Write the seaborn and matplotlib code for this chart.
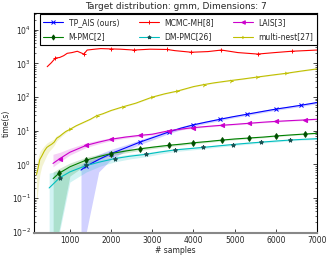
import numpy as np
import pandas as pd
import matplotlib
matplotlib.use("Agg")
import matplotlib.pyplot as plt
from matplotlib.lines import Line2D
import seaborn as sns

sns.set_style("ticks")
plt.rcParams.update({
    "font.family": ["DejaVu Sans"],
    "xtick.direction": "in", "ytick.direction": "in",
    "xtick.top": True, "ytick.right": True,
    "xtick.minor.visible": False,
})

# ---------------- data ----------------
tp_x = [1270, 1400, 1700, 2000, 2350, 2700, 3050, 3400, 3700, 4000, 4300, 4650, 4950, 5300, 5650, 6000, 6300, 6600, 7000]
tp_y = [0.68, 0.89, 1.4, 2.1, 3.1, 4.6, 6.5, 9.2, 12, 15, 18, 22, 26, 31, 37, 44, 50, 57, 69]
tp_lo = [0.01, 0.01, 0.6, 1.4, 2.5, 3.9, 5.6, 8.2, 10.8, 13.6, 16.5, 20, 24, 28.5, 34, 40.5, 46, 52.5, 63.5]
tp_hi = [0.95, 1.3, 2.0, 2.8, 3.8, 5.4, 7.5, 10.3, 13.3, 16.5, 19.6, 24, 28, 33.5, 40, 47.5, 54, 61.5, 74.5]
tp_mk = [1400, 2000, 2700, 3400, 4000, 4650, 5300, 6000, 6600]

mh_x = [450, 550, 650, 750, 850, 935, 1050, 1180, 1340, 1420, 1600, 1750, 2000, 2230, 2550, 2950, 3360, 3550, 3950, 4350, 4680, 5080, 5560, 5970, 6380, 6700, 7000]
mh_y = [800, 1050, 1450, 1500, 1700, 2000, 2100, 2300, 1900, 2500, 2650, 2760, 2700, 2650, 2500, 2650, 2600, 2400, 2150, 2250, 2500, 2100, 1900, 2100, 2300, 2400, 2500]
mh_mk = [650, 1340, 2000, 2550, 3360, 3950, 4680, 5560, 6380]

lais_x = [590, 760, 1000, 1400, 1700, 2000, 2350, 2700, 3000, 3400, 3700, 4000, 4350, 4700, 5000, 5350, 5700, 6000, 6350, 6700, 7000]
lais_y = [1.07, 1.5, 2.3, 3.7, 4.6, 5.6, 6.5, 7.3, 7.9, 10, 11.2, 12.4, 13.5, 14.6, 15.5, 16.7, 18, 19, 20, 21, 22]
lais_lo = [0.85, 1.2, 1.9, 3.2, 4.1, 5.1, 6.0, 6.8, 7.4, 9.4, 10.6, 11.8, 12.9, 14, 14.8, 16, 17.3, 18.2, 19.2, 20.2, 21.2]
lais_hi = [2.0, 2.3, 3.0, 4.4, 5.3, 6.2, 7.1, 7.9, 8.5, 10.7, 11.9, 13.1, 14.2, 15.3, 16.3, 17.5, 18.8, 19.9, 20.9, 21.9, 23]
lais_mk = [760, 1400, 2000, 2700, 3400, 4000, 4700, 5350, 6000, 6700]

mpmc_x = [594, 730, 1000, 1400, 1700, 2000, 2350, 2700, 3050, 3400, 3700, 4000, 4350, 4700, 5000, 5350, 5700, 6000, 6350, 6700, 7000]
mpmc_y = [0.38, 0.54, 0.85, 1.35, 1.7, 2.1, 2.5, 2.9, 3.3, 3.7, 4.0, 4.4, 4.8, 5.3, 5.7, 6.1, 6.5, 7.0, 7.5, 8.0, 8.4]
mpmc_lo = [0.01, 0.01, 0.45, 1.0, 1.4, 1.8, 2.2, 2.6, 3.0, 3.4, 3.7, 4.1, 4.5, 5.0, 5.4, 5.8, 6.2, 6.7, 7.2, 7.7, 8.1]
mpmc_hi = [0.6, 0.75, 1.1, 1.65, 2.0, 2.4, 2.8, 3.2, 3.6, 4.0, 4.3, 4.7, 5.1, 5.6, 6.0, 6.4, 6.8, 7.3, 7.8, 8.3, 8.7]
mpmc_mk = [730, 1400, 2000, 2700, 3400, 4000, 4700, 5350, 6000, 6700]

dm_x = [497, 750, 1000, 1400, 1750, 2100, 2450, 2850, 3200, 3550, 3900, 4230, 4600, 4950, 5300, 5650, 6000, 6340, 6700, 7000]
dm_y = [0.2, 0.4, 0.6, 0.93, 1.2, 1.5, 1.75, 2.0, 2.35, 2.7, 2.95, 3.2, 3.55, 3.9, 4.25, 4.6, 4.95, 5.3, 5.6, 5.8]
dm_lo = [0.01, 0.01, 0.3, 0.6, 0.9, 1.2, 1.45, 1.7, 2.05, 2.4, 2.65, 2.9, 3.25, 3.6, 3.95, 4.3, 4.65, 5.0, 5.3, 5.5]
dm_hi = [0.55, 0.65, 0.85, 1.2, 1.45, 1.75, 2.0, 2.25, 2.6, 2.95, 3.2, 3.5, 3.85, 4.2, 4.55, 4.9, 5.25, 5.6, 5.9, 6.1]
dm_mk = [750, 1400, 2100, 2850, 3550, 4230, 4950, 5650, 6340]

mn_x = [190, 230, 270, 320, 380, 440, 500, 560, 620, 680, 750, 820, 900, 1000, 1150, 1300, 1500, 1650, 1800, 2000, 2300, 2600, 3000, 3300, 3600, 4000, 4250, 4500, 4900, 5200, 5550, 5900, 6250, 6600, 7000]
mn_y = [0.5, 0.8, 1.4, 1.8, 2.5, 3.2, 3.6, 4.0, 4.6, 6.0, 6.8, 8.0, 9.5, 11, 14, 17, 22, 28, 32, 40, 52, 66, 100, 125, 150, 205, 235, 265, 310, 345, 395, 450, 510, 590, 690]
mn_lo = [y * 0.97 for y in mn_y]
mn_lo[:13] = [0.07, 0.2, 0.5, 0.9, 1.3, 1.9, 2.5, 3.0, 3.7, 5.0, 6.0, 7.2, 8.7]
mn_hi = [y * 1.03 for y in mn_y]
mn_hi[:13] = [1.0, 1.6, 2.4, 2.9, 3.6, 4.3, 4.8, 5.2, 5.8, 7.2, 7.8, 9.0, 10.5]
mn_mk = [1000, 1650, 2300, 3000, 3600, 4250, 4900, 5550, 6250]

series = [
    ("TP_AIS (ours)", tp_x, tp_y, tp_lo, tp_hi, tp_mk, "#0000ff", "x", "#0000ff"),
    ("MCMC-MH[8]", mh_x, mh_y, None, None, mh_mk, "#ff0000", "+", "#ff0000"),
    ("LAIS[3]", lais_x, lais_y, lais_lo, lais_hi, lais_mk, "#cc00cc", "<", "#cc00cc"),
    ("M-PMC[2]", mpmc_x, mpmc_y, mpmc_lo, mpmc_hi, mpmc_mk, "#008000", "d", "#004d00"),
    ("DM-PMC[26]", dm_x, dm_y, dm_lo, dm_hi, dm_mk, "#00bfbf", "*", "#1a5050"),
    ("multi-nest[27]", mn_x, mn_y, mn_lo, mn_hi, mn_mk, "#bfbf00", "4", "#bfbf00"),
]

fig = plt.figure(figsize=(3.32, 2.59), dpi=100)
ax = fig.add_axes([0.102, 0.1, 0.853, 0.85])

handles = {}
for name, xs, ys, lo, hi, mk_x, col, mk, mec in series:
    df = pd.DataFrame({"x": xs, "y": ys})
    idx = [int(np.argmin(np.abs(np.array(xs) - m))) for m in mk_x]
    style = dict(color=col, lw=0.8, marker=mk, markersize=3.0,
                 markeredgecolor=mec, markerfacecolor=mec, markeredgewidth=0.7)
    sns.lineplot(data=df, x="x", y="y", ax=ax, markevery=idx, zorder=3,
                 legend=False, **style)
    lstyle = dict(style)
    lstyle["markersize"] = 2.6
    handles[name] = Line2D([], [], **lstyle)
    if lo is not None:
        ax.fill_between(xs, lo, hi, color=col, alpha=0.18, lw=0, zorder=2)

ax.set_yscale("log")
ax.set_xlim(126, 7000)
ax.set_ylim(10 ** -2.04, 10 ** 4.5)
ax.set_xticks([1000, 2000, 3000, 4000, 5000, 6000, 7000])
ax.tick_params(axis="both", which="major", labelsize=5.5, length=3, width=0.6, pad=2)
ax.tick_params(axis="y", which="minor", length=1.5, width=0.5)
for s in ax.spines.values():
    s.set_linewidth(0.8)
    s.set_color("black")
ax.spines["bottom"].set_color("#888888")
ax.spines["bottom"].set_linewidth(1.5)

ax.set_xlabel("# samples", fontsize=5.5, labelpad=1)
ax.set_ylabel("time(s)", fontsize=5.5, labelpad=1)
ax.set_title("Target distribution: gmm, Dimensions: 7", fontsize=6.5, pad=3)

# row-major legend order (matplotlib fills column by column)
order = ["TP_AIS (ours)", "M-PMC[2]", "MCMC-MH[8]", "DM-PMC[26]", "LAIS[3]", "multi-nest[27]"]
leg = ax.legend([handles[n] for n in order], order,
                loc="upper left", ncol=3, fontsize=5.5, mode="expand",
                bbox_to_anchor=(0.02, 0.0, 0.98, 0.995), borderaxespad=0.0,
                fancybox=False, edgecolor="black", framealpha=1,
                handlelength=2.6, handletextpad=0.7, borderpad=0.5,
                labelspacing=0.75, columnspacing=1.0, numpoints=1)
leg.get_frame().set_linewidth(0.8)

fig.savefig("out.png", dpi=100)
